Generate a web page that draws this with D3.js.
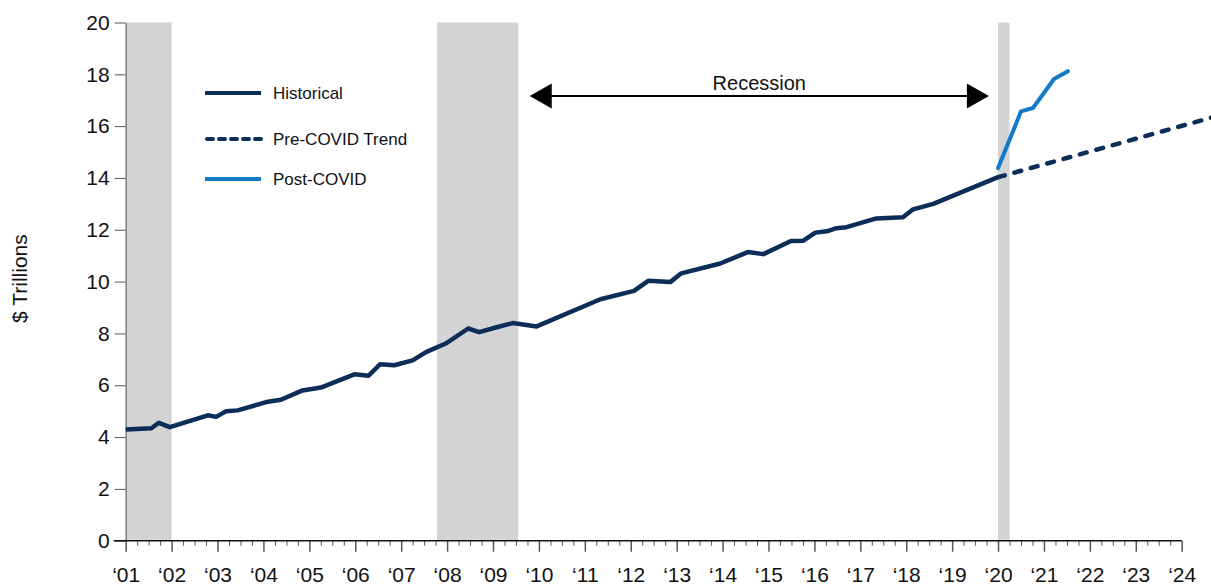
<!DOCTYPE html>
<html>
<head>
<meta charset="utf-8">
<script src="https://cdn.jsdelivr.net/npm/d3@7"></script>
<style>
  body { margin: 0; background: #fff; }
  svg { display: block; font-family: "Liberation Sans", Arial, sans-serif; }
</style>
</head>
<body>
<svg width="1211" height="586"></svg>
<script>
// data (decimal years, $ trillions)
const histYears = [2001.00, 2001.56, 2001.72, 2001.96, 2002.79, 2002.97, 2003.19, 2003.44, 2004.06, 2004.38,
  2004.85, 2005.25, 2005.98, 2006.29, 2006.54, 2006.85, 2007.25, 2007.54, 2007.97, 2008.46,
  2008.70, 2009.06, 2009.43, 2009.95, 2011.34, 2012.07, 2012.38, 2012.86, 2013.10, 2013.95,
  2014.55, 2014.89, 2015.49, 2015.76, 2016.02, 2016.27, 2016.48, 2016.70, 2017.35, 2017.93,
  2018.15, 2018.59, 2020.00];
const histValues = [4.29, 4.34, 4.55, 4.38, 4.84, 4.78, 5.00, 5.03, 5.35, 5.44,
  5.80, 5.91, 6.42, 6.37, 6.81, 6.77, 6.96, 7.28, 7.61, 8.19,
  8.05, 8.23, 8.40, 8.27, 9.32, 9.64, 10.03, 9.98, 10.32, 10.70,
  11.14, 11.06, 11.57, 11.58, 11.89, 11.94, 12.06, 12.10, 12.44, 12.48,
  12.79, 13.00, 14.03];

const trendYears = [2020.0, 2024.65];
const trendValues = [14.03, 16.33];

const postYears = [2020.0, 2020.25, 2020.5, 2020.76, 2021.22, 2021.52];
const postValues = [14.38, 15.47, 16.57, 16.70, 17.82, 18.12];

// recession periods [start, end]
const recessions = [[2001.0, 2002.0], [2007.78, 2009.55], [2020.0, 2020.25]];

const yearTicks = d3.range(2001, 2025);
const yTicks = d3.range(0, 21, 2);

const legendNames = ["Historical", "Pre-COVID Trend", "Post-COVID"];

const navy = "#0c2d57";
const blue = "#157ac6";
const shade = "#d3d4d6";

const svg = d3.select("svg");

const x = d3.scaleLinear().domain([2001, 2024]).range([125.7, 1181.7]);
const y = d3.scaleLinear().domain([0, 20]).range([540.7, 22.5]);

// recession shading
svg.append("g")
  .selectAll("rect")
  .data(recessions)
  .enter().append("rect")
    .attr("x", d => x(d[0]))
    .attr("width", d => x(d[1]) - x(d[0]))
    .attr("y", y(20))
    .attr("height", y(0) - y(20))
    .attr("fill", shade);

// y axis
const yAxis = svg.append("g")
  .attr("transform", `translate(${x(2001)},0)`)
  .call(d3.axisLeft(y).tickValues(yTicks).tickSize(11).tickPadding(5).tickSizeOuter(0));
yAxis.select(".domain").attr("stroke", "#808080").attr("stroke-width", 1.5);
yAxis.selectAll(".tick line").attr("stroke", "#555");
yAxis.selectAll("text")
  .attr("font-size", 21)
  .attr("font-family", "Liberation Sans, Arial, sans-serif")
  .attr("fill", "#111");

svg.append("text")
  .attr("transform", `translate(27,${(y(0) + y(20)) / 2 - 3}) rotate(-90)`)
  .attr("text-anchor", "middle")
  .attr("font-size", 21)
  .attr("fill", "#111")
  .text("$ Trillions");

// x axis: minor quarter ticks, then major year ticks
const quarterTicks = d3.range(2001, 2024, 0.25).filter(q => q % 1 !== 0);
svg.append("g")
  .attr("transform", `translate(0,${y(0)})`)
  .call(d3.axisBottom(x).tickValues(quarterTicks).tickSize(5).tickFormat(""))
  .call(g => g.select(".domain").remove())
  .selectAll(".tick line").attr("stroke", "#555");

const xAxis = svg.append("g")
  .attr("transform", `translate(0,${y(0)})`)
  .call(d3.axisBottom(x).tickValues(yearTicks).tickSize(11).tickFormat(d => "\u2018" + String(d).slice(2)));
xAxis.select(".domain").remove();
xAxis.selectAll(".tick line").attr("stroke", "#555").attr("stroke-width", 1.5);
xAxis.selectAll("text")
  .attr("dy", null)
  .attr("y", 41)
  .attr("font-size", 21)
  .attr("font-family", "Liberation Sans, Arial, sans-serif")
  .attr("fill", "#111");

svg.append("line")
  .attr("x1", x(2001) - 12).attr("x2", x(2024))
  .attr("y1", y(0)).attr("y2", y(0))
  .attr("stroke", "#111").attr("stroke-width", 1.5);

// lines
const line = d3.line().x(d => x(d[0])).y(d => y(d[1]));

svg.append("path")
  .datum(d3.zip(trendYears, trendValues))
  .attr("fill", "none")
  .attr("stroke", navy)
  .attr("stroke-width", 4.5)
  .attr("stroke-linecap", "round")
  .attr("stroke-dasharray", "7,10")
  .attr("d", line);

svg.append("path")
  .datum(d3.zip(histYears, histValues))
  .attr("fill", "none")
  .attr("stroke", navy)
  .attr("stroke-width", 4.5)
  .attr("stroke-linejoin", "round")
  .attr("d", line);

svg.append("path")
  .datum(d3.zip(postYears, postValues))
  .attr("fill", "none")
  .attr("stroke", blue)
  .attr("stroke-width", 4)
  .attr("stroke-linejoin", "round")
  .attr("stroke-linecap", "round")
  .attr("d", line);

// recession arrow
const arrowY = 96;
const ax0 = x(2009.8), ax1 = x(2019.8);
svg.append("line")
  .attr("x1", ax0 + 10).attr("x2", ax1 - 10)
  .attr("y1", arrowY).attr("y2", arrowY)
  .attr("stroke", "#000").attr("stroke-width", 2.2);
svg.append("path")
  .attr("d", `M${ax0},${arrowY} L${ax0 + 22},${arrowY - 12.5} L${ax0 + 22},${arrowY + 12.5} Z`)
  .attr("fill", "#000");
svg.append("path")
  .attr("d", `M${ax1},${arrowY} L${ax1 - 22},${arrowY - 12.5} L${ax1 - 22},${arrowY + 12.5} Z`)
  .attr("fill", "#000");
svg.append("text")
  .attr("x", (ax0 + ax1) / 2)
  .attr("y", arrowY - 6)
  .attr("text-anchor", "middle")
  .attr("font-size", 20)
  .attr("fill", "#111")
  .text("Recession");

// legend
const legendY = [93, 139, 179];
const legendStyle = [
  { stroke: navy, dash: null },
  { stroke: navy, dash: "6,6" },
  { stroke: blue, dash: null }
];
const legend = svg.append("g")
  .selectAll("g")
  .data(legendNames)
  .enter().append("g")
    .attr("transform", (d, i) => `translate(205,${legendY[i]})`);

legend.append("line")
  .attr("x1", (d, i) => legendStyle[i].dash ? 2 : 0)
  .attr("x2", 56)
  .attr("stroke", (d, i) => legendStyle[i].stroke)
  .attr("stroke-width", 4)
  .attr("stroke-linecap", (d, i) => legendStyle[i].dash ? "round" : "butt")
  .attr("stroke-dasharray", (d, i) => legendStyle[i].dash);

legend.append("text")
  .attr("x", 68)
  .attr("y", 6)
  .attr("font-size", 17)
  .attr("fill", "#111")
  .text(d => d);
</script>
</body>
</html>
